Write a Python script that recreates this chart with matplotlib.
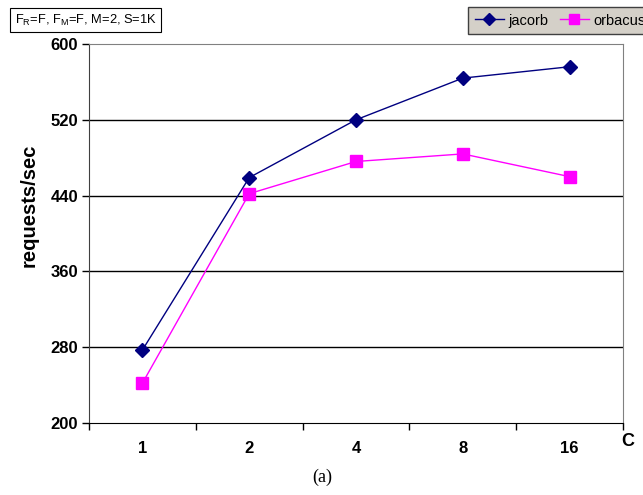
import matplotlib.pyplot as plt
import numpy as np

plt.rcParams['font.family'] = ['Liberation Sans', 'DejaVu Sans']
plt.rcParams['mathtext.fontset'] = 'custom'
plt.rcParams['mathtext.rm'] = 'Liberation Sans'
plt.rcParams['mathtext.it'] = 'Liberation Sans'

# data
categories = ['1', '2', '4', '8', '16']
jacorb = [277, 459, 520, 564, 576]
orbacus = [242, 442, 476, 484, 460]
yticks = [200, 280, 360, 440, 520, 600]

fig = plt.figure(figsize=(6.43, 4.95), dpi=100)
ax = fig.add_axes([89 / 643, 1 - 423 / 495, (623 - 89) / 643, (423 - 44) / 495])

x = np.arange(len(categories))
ax.plot(x, jacorb, color='#000080', marker='D', markersize=7, linewidth=1,
        label='jacorb')
ax.plot(x, orbacus, color='#ff00ff', marker='s', markersize=9, linewidth=1,
        label='orbacus')

ax.set_xlim(-0.5, len(categories) - 0.5)
ax.set_ylim(200, 600)
ax.set_yticks(yticks)
ax.set_yticklabels([str(v) for v in yticks], fontsize=12, fontweight='bold')
for v in yticks[1:-1]:
    ax.axhline(v, color='black', linewidth=1, zorder=0)

ax.set_xticks(x)
ax.set_xticklabels(categories, fontsize=12, fontweight='bold')
ax.set_xticks(np.arange(-0.5, len(categories)), minor=True)
ax.tick_params(axis='x', which='major', length=0, pad=13)
ax.tick_params(axis='x', which='minor', length=5, direction='out', width=1)
ax.tick_params(axis='y', length=5, direction='out', width=1, pad=3)

for side in ['top', 'right']:
    ax.spines[side].set_color('#808080')
ax.spines['left'].set_color('#404040')
ax.spines['bottom'].set_color('black')

# y label sits above the axis centre in the reference
fig.text(29 / 643, 1 - 205 / 495, 'requests/sec', fontsize=14.5, fontweight='bold',
         rotation=90, ha='center', va='center')
fig.text(628 / 643, 1 - 442 / 495, 'C', fontsize=13, fontweight='bold',
         ha='center', va='center')

fig.text(15 / 643, 1 - 20 / 495, r'F$_\mathregular{R}$=F, F$_\mathregular{M}$=F, M=2, S=1K',
         fontsize=9.3, ha='left', va='center',
         bbox=dict(boxstyle='square,pad=0.35', facecolor='white', edgecolor='black', linewidth=0.8))

leg = fig.legend(loc='upper left', bbox_to_anchor=(468 / 643, 1 - 7 / 495), ncol=2,
                 fontsize=10.5, frameon=True, fancybox=False, handlelength=2.0,
                 columnspacing=0.8, handletextpad=0.3, borderpad=0.45,
                 borderaxespad=0, markerscale=0.85)
leg.get_frame().set_facecolor('#d4d0c8')
leg.get_frame().set_edgecolor('#404040')
leg.get_frame().set_alpha(1)

fig.text(322 / 643, 1 - 477 / 495, '(a)', fontsize=13, family='Liberation Serif',
         ha='center', va='center')

fig.savefig('out.png', dpi=100)
